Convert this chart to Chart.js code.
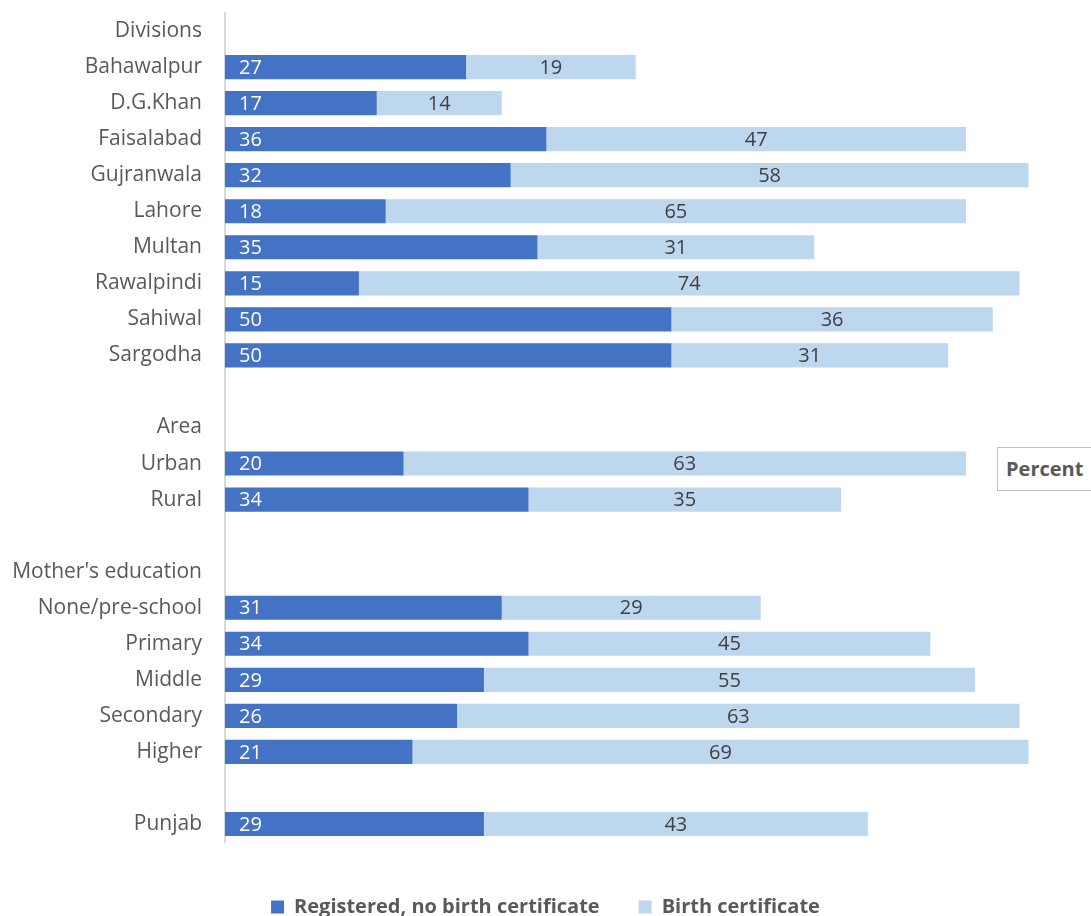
<!DOCTYPE html>
<html>
<head>
<meta charset="utf-8">
<script src="https://cdn.jsdelivr.net/npm/chart.js@4.4.1/dist/chart.umd.min.js"></script>
<style>
  html, body { margin: 0; padding: 0; background: #fff; overflow: hidden; }
  #wrap { position: relative; width: 1091px; height: 916px; }
  #percent {
    position: absolute; left: 997px; top: 447px; width: 110px; height: 44px;
    border: 1px solid #bfbfbf; background: #fff; box-sizing: border-box;
    font-family: "Open Sans", sans-serif; font-weight: bold; font-size: 20px;
    color: #595959; line-height: 42px; padding-left: 8px;
  }
</style>
</head>
<body>
<div id="wrap">
  <canvas id="myChart" width="1091" height="916"></canvas>
  <div id="percent">Percent</div>
</div>
<script>
var categories = ['Divisions', 'Bahawalpur', 'D.G.Khan', 'Faisalabad', 'Gujranwala', 'Lahore', 'Multan',
  'Rawalpindi', 'Sahiwal', 'Sargodha', '', 'Area', 'Urban', 'Rural', '', "Mother's education",
  'None/pre-school', 'Primary', 'Middle', 'Secondary', 'Higher', '', 'Punjab']

var registered = [null, 27, 17, 36, 32, 18, 35, 15, 50, 50, null, null, 20, 34, null, null, 31, 34, 29, 26, 21, null, 29]
var certificate = [null, 19, 14, 47, 58, 65, 31, 74, 36, 31, null, null, 63, 35, null, null, 29, 45, 55, 63, 69, null, 43]

var seriesNames = ['Registered, no birth certificate', 'Birth certificate']

// value labels: first series at inside base, second centered
var barLabels = {
  id: 'barLabels',
  afterDatasetsDraw: function(chart) {
    var ctx = chart.ctx
    ctx.save()
    ctx.font = '20px "Open Sans"'
    ctx.textBaseline = 'middle'
    chart.data.datasets.forEach(function(ds, di) {
      var meta = chart.getDatasetMeta(di)
      meta.data.forEach(function(bar, i) {
        var v = ds.data[i]
        if (v == null) return
        if (di == 0) {
          ctx.fillStyle = '#ffffff'
          ctx.textAlign = 'left'
          ctx.fillText(v, bar.base + 14, bar.y + 1)
        } else {
          ctx.fillStyle = '#404040'
          ctx.textAlign = 'center'
          ctx.fillText(v, (bar.x + bar.base) / 2, bar.y + 1)
        }
      })
    })
    ctx.restore()
  }
}

var myChart = document.getElementById('myChart').getContext('2d')
var chart = new Chart(myChart, {
  type: 'bar',
  data: {
    labels: categories,
    datasets: [
      { label: seriesNames[0], data: registered, backgroundColor: '#4472c4' },
      { label: seriesNames[1], data: certificate, backgroundColor: '#bdd7ee' }
    ]
  },
  options: {
    indexAxis: 'y',
    responsive: false,
    animation: false,
    barPercentage: 0.67,
    categoryPercentage: 1,
    layout: { padding: { top: 13, right: 0, bottom: -11, left: 0 } },
    scales: {
      x: { stacked: true, display: false, min: 0, max: 97 },
      y: {
        stacked: true,
        grid: { display: false },
        border: { display: true, color: '#d9d9d9', width: 2 },
        ticks: { color: '#595959', font: { family: 'Open Sans', size: 21 }, padding: 15, autoSkip: false },
        afterFit: function(scale) {
          scale.width = 225
          scale.paddingTop = 0
          scale.paddingBottom = 0
        }
      }
    },
    plugins: {
      legend: {
        position: 'bottom',
        title: { display: true, text: ' ', padding: 0, font: { size: 10, lineHeight: 1.6 } },
        labels: {
          boxWidth: 13, boxHeight: 13, padding: 39,
          color: '#595959',
          font: { family: 'Open Sans', size: 20, weight: 'bold' }
        }
      },
      tooltip: { enabled: false }
    }
  },
  plugins: [barLabels]
})
</script>
</body>
</html>
